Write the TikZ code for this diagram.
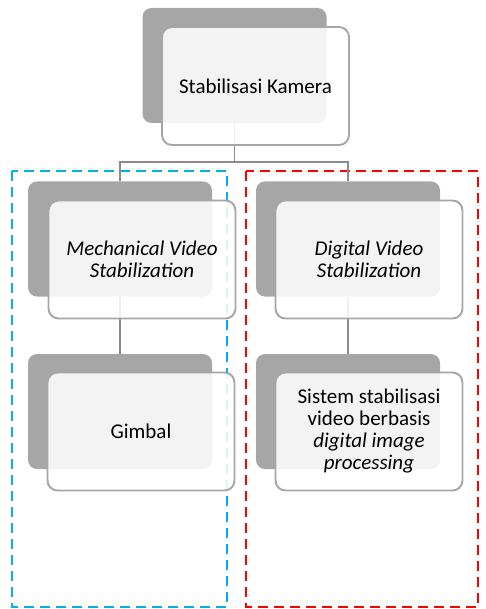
\documentclass[tikz,border=0pt]{standalone}
\usepackage{fontspec}
\setmainfont{Carlito}
\definecolor{boxgray}{HTML}{A6A6A6}
\definecolor{linegray}{HTML}{8C8C8C}
\definecolor{dblue}{HTML}{00B0F0}
\definecolor{dred}{HTML}{FF0000}
\tikzset{
  backbox/.style={fill=boxgray, draw=none, rounded corners=9pt, minimum width=184pt, minimum height=115pt, inner sep=0pt},
  frontbox/.style={fill=white, fill opacity=0.87, text opacity=1, draw=boxgray, line width=1.9pt, rounded corners=10pt, minimum width=187pt, minimum height=118pt, inner sep=0pt, align=center, font=\fontsize{21}{22}\selectfont},
  conn/.style={draw=linegray, line width=1.9pt},
  groupbox/.style={line width=2.3pt, dash pattern=on 10pt off 6pt},
}
\begin{document}
\begin{tikzpicture}[x=1pt,y=-1pt]
\useasboundingbox (0,0) rectangle (486,609);
% group frames
\draw[groupbox, draw=dblue] (12,171) rectangle (227,607);
\draw[groupbox, draw=dred] (246,171) rectangle (478,607);
% back boxes
\node[backbox] (g0) at (234.5,65.5) {};
\node[backbox] (g1) at (120,239) {};
\node[backbox] (g2) at (348,239) {};
\node[backbox] (g3) at (120,411.5) {};
\node[backbox] (g4) at (348,411.5) {};
% connectors
\coordinate (bus) at (234.5,162);
\draw[conn] (g0.south) -- (g0.south |- bus) -| (g1.north);
\draw[conn] (g0.south |- bus) -| (g2.north);
\draw[conn] (g1.south) -- (g3.north);
\draw[conn] (g2.south) -- (g4.north);
% front boxes
\node[frontbox] (f0) at (255.5,86) {Stabilisasi Kamera};
\node[frontbox] (f1) at (142,259.5) {\itshape Mechanical Video\\\itshape Stabilization};
\node[frontbox] (f2) at (369,259.5) {\itshape Digital Video\\\itshape Stabilization};
\node[frontbox] (f3) at (141,431.5) {Gimbal};
\node[frontbox] (f4) at (369,431.5) {\fontsize{21}{24.5}\selectfont Sistem stabilisasi\\video berbasis\\\itshape digital image\\\itshape processing};
\end{tikzpicture}
\end{document}
